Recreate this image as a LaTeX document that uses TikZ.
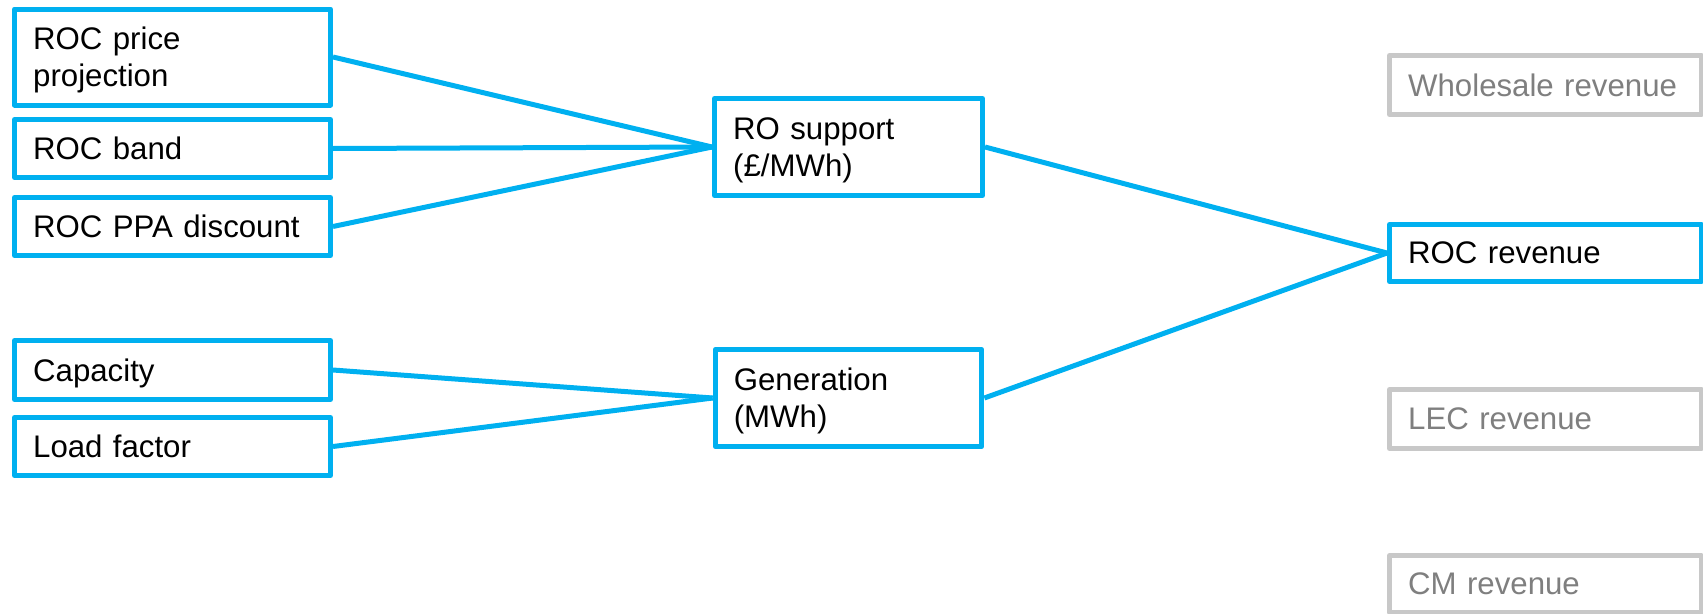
\documentclass[tikz,border=0pt]{standalone}
\usepackage{fontspec}
\setmainfont{Liberation Sans}
\definecolor{boxblue}{HTML}{00B0F0}
\definecolor{boxgrey}{HTML}{C8C8C8}
\definecolor{textgrey}{HTML}{7F7F7F}
\begin{document}
\begin{tikzpicture}[x=0.75pt,y=-0.75pt,
  every node/.style={font=\fontsize{23.4}{27.5}\selectfont},
  box/.style={draw=boxblue, line width=3.75pt, line join=round, fill=white,
    rectangle, inner xsep=14pt, inner ysep=0pt, text depth=0pt,
    align=left, text=black},
  twoline/.style={box, text depth=27.5pt},
  greybox/.style={box, draw=boxgrey, text=textgrey},
  link/.style={draw=boxblue, line width=3.75pt}]
\useasboundingbox (0,0) rectangle (1703,614);

% inputs
\node[twoline, minimum width=237pt, text width=209pt, minimum height=72pt] (rocp) at (172.5,57) {ROC price\\projection};
\node[box, minimum width=237pt, text width=209pt, minimum height=43.5pt] (rocb) at (172.5,148.5) {ROC band};
\node[box, minimum width=237pt, text width=209pt, minimum height=43.5pt] (ppa) at (172.5,226.5) {ROC PPA discount};
\node[box, minimum width=237pt, text width=209pt, minimum height=44.25pt] (cap) at (172.5,370) {Capacity};
\node[box, minimum width=237pt, text width=209pt, minimum height=43.5pt] (load) at (172.5,446.5) {Load factor};

% intermediate results
\node[twoline, minimum width=201pt, text width=173pt, minimum height=72.75pt] (ros) at (848.5,147) {RO support\\(£/MWh)};
\node[twoline, minimum width=200pt, text width=172pt, minimum height=72.75pt] (gen) at (848.5,398) {Generation\\(MWh)};

% revenue streams
\node[greybox, minimum width=233.6pt, text width=205.6pt, minimum height=44.25pt] (whole) at (1545.25,85) {Wholesale revenue};
\node[box, minimum width=233.6pt, text width=205.6pt, minimum height=42.75pt] (rocr) at (1545.25,253) {ROC revenue};
\node[greybox, minimum width=233.6pt, text width=205.6pt, minimum height=44.25pt] (lec) at (1545.25,419) {LEC revenue};
\node[greybox, minimum width=233.6pt, text width=205.6pt, minimum height=42.4pt] (cm) at (1545.25,584) {CM revenue};

% connectors
\draw[link] (rocp.east) -- (ros.west);
\draw[link] (rocb.east) -- (ros.west);
\draw[link] (ppa.east) -- (ros.west);
\draw[link] (cap.east) -- (gen.west);
\draw[link] (load.east) -- (gen.west);
\draw[link] (ros.east) -- (rocr.west);
\draw[link] (gen.east) -- (rocr.west);
\end{tikzpicture}
\end{document}
